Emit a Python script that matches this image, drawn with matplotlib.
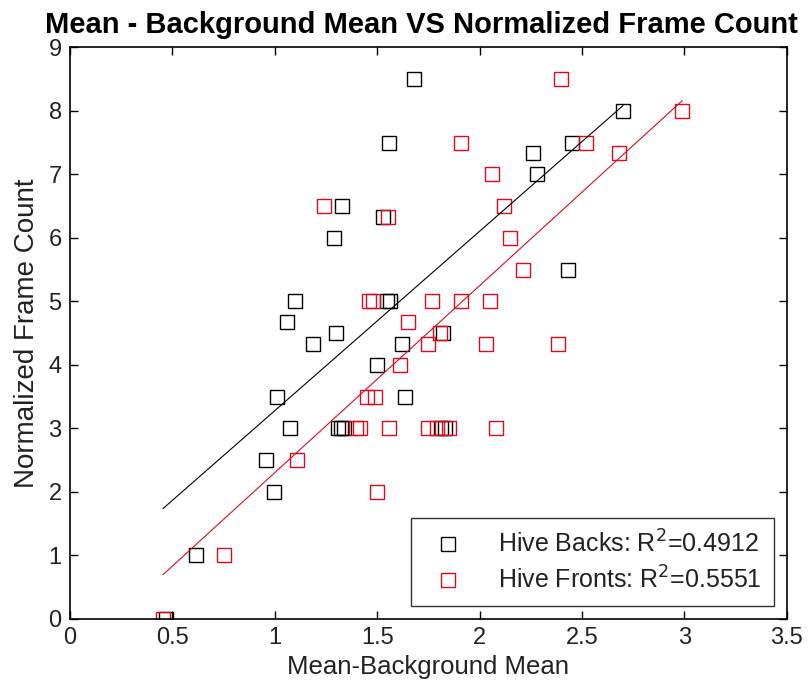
import matplotlib
matplotlib.use('Agg')
import matplotlib.pyplot as plt
import numpy as np

# Hive Backs (black squares)
backs_x = [0.47, 0.615, 0.956, 0.995, 1.01, 1.073, 1.06, 1.10, 1.185, 1.29, 1.33, 1.30,
           1.307, 1.325, 1.34, 1.50, 1.546, 1.561, 1.53, 1.56, 1.68, 1.62, 1.635,
           1.82, 1.81, 1.83, 2.26, 2.28, 2.43, 2.45, 2.70]
backs_y = [0, 1, 2.5, 2, 3.5, 3, 4.67, 5, 4.33, 6, 6.5, 4.5,
           3, 3, 3, 4, 5, 5, 6.33, 7.5, 8.5, 4.33, 3.5,
           4.5, 3, 3, 7.33, 7, 5.5, 7.5, 8]

# Hive Fronts (red squares)
fronts_x = [0.455, 0.75, 1.107, 1.24, 1.395, 1.415, 1.45, 1.49, 1.46, 1.48, 1.50,
            1.555, 1.556, 1.61, 1.65, 1.75, 1.77, 1.75, 1.79, 1.85, 1.805, 1.91,
            1.91, 2.03, 2.05, 2.06, 2.08, 2.12, 2.15, 2.21, 2.385, 2.40, 2.52,
            2.68, 2.99]
fronts_y = [0, 1, 2.5, 6.5, 3, 3, 3.5, 3.5, 5, 5, 2,
            6.33, 3, 4, 4.67, 4.33, 5, 3, 3, 3, 4.5, 7.5,
            5, 4.33, 5, 7, 3, 6.5, 6, 5.5, 4.33, 8.5, 7.5,
            7.33, 8]

# linear fits (slope, intercept)
backs_fit = (2.824, 0.455)
fronts_fit = (2.943, -0.639)
backs_range = [0.455, 2.70]
fronts_range = [0.455, 2.99]

legend_labels = ['Hive Backs: R$^2$=0.4912', 'Hive Fronts: R$^2$=0.5551']

red = '#dc0a1e'

plt.rcParams['font.family'] = ['Liberation Sans', 'DejaVu Sans']

fig = plt.figure(figsize=(8.09, 6.88), dpi=100)
ax = fig.add_axes([0.0865, 0.1003, 0.886, 0.831])

ax.plot(backs_x, backs_y, linestyle='none', marker='s', markersize=10,
        markerfacecolor='none', markeredgecolor='black', markeredgewidth=1.0,
        label=legend_labels[0])
ax.plot(fronts_x, fronts_y, linestyle='none', marker='s', markersize=10,
        markerfacecolor='none', markeredgecolor=red, markeredgewidth=1.0,
        label=legend_labels[1])

bx = np.array(backs_range)
fx = np.array(fronts_range)
ax.plot(bx, backs_fit[0] * bx + backs_fit[1], color='black', linewidth=0.8)
ax.plot(fx, fronts_fit[0] * fx + fronts_fit[1], color=red, linewidth=0.8)

ax.set_xlim(0, 3.5)
ax.set_ylim(0, 9)
ax.set_xticks(np.arange(0, 3.51, 0.5))
ax.set_xticklabels(['0', '0.5', '1', '1.5', '2', '2.5', '3', '3.5'])
ax.set_yticks(range(0, 10))
ax.tick_params(direction='in', top=True, right=True, length=6, width=1.0,
               labelsize=17, pad=6, labelcolor='#222222')
for s in ax.spines.values():
    s.set_linewidth(1.2)

ax.set_title('Mean - Background Mean VS Normalized Frame Count',
             fontsize=21, fontweight='bold', pad=10, x=0.49)
ax.set_xlabel('Mean-Background Mean', fontsize=18.5, labelpad=4, color='#222222')
ax.set_ylabel('Normalized Frame Count', fontsize=20, labelpad=6, color='#222222')

leg = ax.legend(loc='lower right', fontsize=18, frameon=True, fancybox=False,
                edgecolor='black', handletextpad=1.0, borderpad=0.5,
                labelspacing=0.35, borderaxespad=0.5)
leg.get_frame().set_linewidth(1.0)
for t in leg.get_texts():
    t.set_color('#222222')

fig.savefig('out.png', dpi=100)
